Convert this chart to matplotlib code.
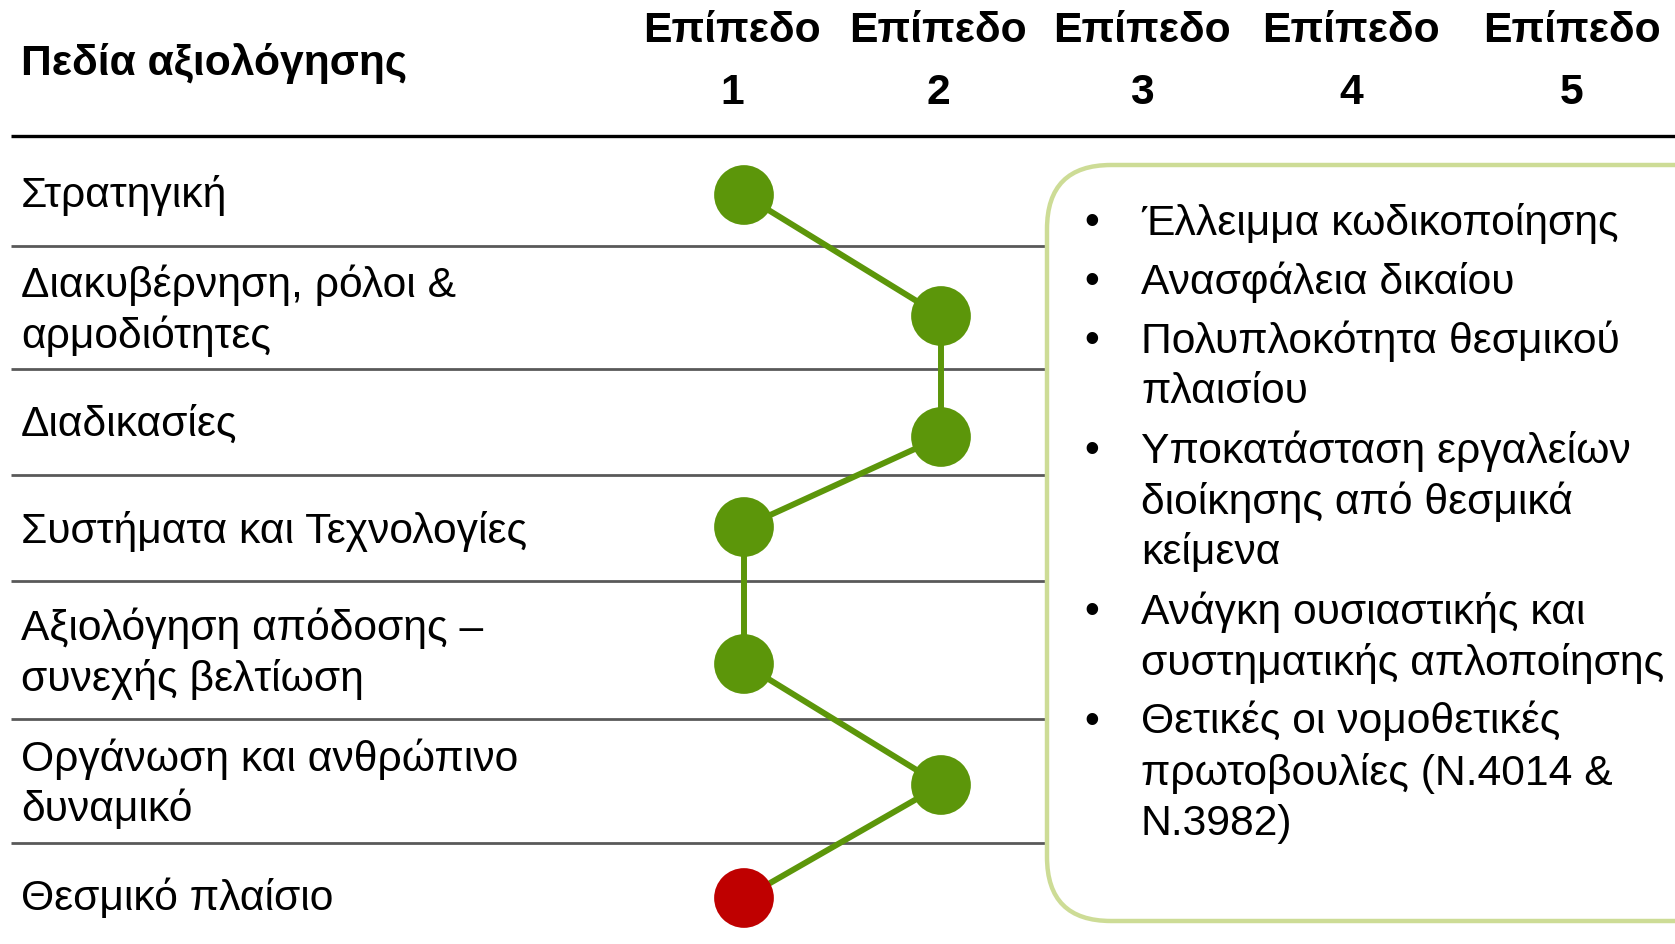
import matplotlib
matplotlib.use("Agg")
import matplotlib.pyplot as plt
from matplotlib.patches import FancyBboxPatch

plt.rcParams['font.family'] = ['Liberation Sans', 'DejaVu Sans']

# data
header_left = "Πεδία αξιολόγησης"
level_names = ["Επίπεδο\n1", "Επίπεδο\n2", "Επίπεδο\n3", "Επίπεδο\n4", "Επίπεδο\n5"]
categories = ["Στρατηγική",
              "Διακυβέρνηση, ρόλοι &\nαρμοδιότητες",
              "Διαδικασίες",
              "Συστήματα και Τεχνολογίες",
              "Αξιολόγηση απόδοσης –\nσυνεχής βελτίωση",
              "Οργάνωση και ανθρώπινο\nδυναμικό",
              "Θεσμικό πλαίσιο"]
levels = [1, 2, 2, 1, 1, 2, 1]
status = ["ok", "ok", "ok", "ok", "ok", "ok", "bad"]
notes = ["Έλλειμμα κωδικοποίησης",
         "Ανασφάλεια δικαίου",
         "Πολυπλοκότητα θεσμικού\nπλαισίου",
         "Υποκατάσταση εργαλείων\nδιοίκησης από θεσμικά\nκείμενα",
         "Ανάγκη ουσιαστικής και\nσυστηματικής απλοποίησης",
         "Θετικές οι νομοθετικές\nπρωτοβουλίες (Ν.4014 &\nΝ.3982)"]

# layout (pixels)
W, H = 1675, 944
row_y = [195, 316, 437, 527, 664, 785, 898]
label_y = [195, 285, 425, 531, 628, 759, 899]   # first line of each label
sep_y = [246, 369, 475, 581, 719, 843]
level_x = [732, 938, 1142, 1351, 1572]
green = "#5c960a"
red = "#bf0000"
fs = 30.7

fig = plt.figure(figsize=(W / 100, H / 100), dpi=100)
deco = fig.add_axes([0, 0, 1, 1])
deco.set_xlim(0, W)
deco.set_ylim(H, 0)
deco.axis('off')

# header
deco.text(21, 63, header_left, fontsize=fs, fontweight='bold', va='center', ha='left')
for x, name in zip(level_x, level_names):
    top, num = name.split("\n")
    deco.text(x, 31, top, fontsize=fs, fontweight='bold', va='center', ha='center')
    deco.text(x, 93, num, fontsize=fs, fontweight='bold', va='center', ha='center')
deco.plot([11, W], [136, 136], color='black', lw=2.4, solid_capstyle='butt')

# rows
for y in sep_y:
    deco.plot([11, 1046], [y, y], color='#595959', lw=2.0, solid_capstyle='butt')
for y, lab in zip(label_y, categories):
    for i, ln in enumerate(lab.split("\n")):
        deco.text(21, y + i * 51, ln, fontsize=fs, va='center', ha='left')

# notes box
box = FancyBboxPatch((1047, 165), 800, 756, boxstyle="round,pad=0,rounding_size=64",
                     fc='white', ec='#cddc96', lw=3.2, zorder=3)
deco.add_patch(box)
yy = 223
for item in notes:
    deco.text(1092, yy, "•", fontsize=fs, va='center', ha='center', zorder=4)
    for ln in item.split("\n"):
        deco.text(1141, yy, ln, fontsize=fs, va='center', ha='left', zorder=4)
        yy += 51
    yy += 8

# data axes: x in levels, y in pixels
ax = fig.add_axes([0, 0, 1, 1])
ax.patch.set_alpha(0)
x1, x2 = 744, 941
step = x2 - x1
ax.set_xlim(1 - x1 / step, 1 + (W - x1) / step)
ax.set_ylim(H, 0)
ax.axis('off')
ax.plot(levels, row_y, color=green, lw=4.3, zorder=2)
colors = [green if s == "ok" else red for s in status]
ax.scatter(levels, row_y, s=43 ** 2, c=colors, zorder=3, linewidths=0)

fig.savefig("out.png", dpi=100)
